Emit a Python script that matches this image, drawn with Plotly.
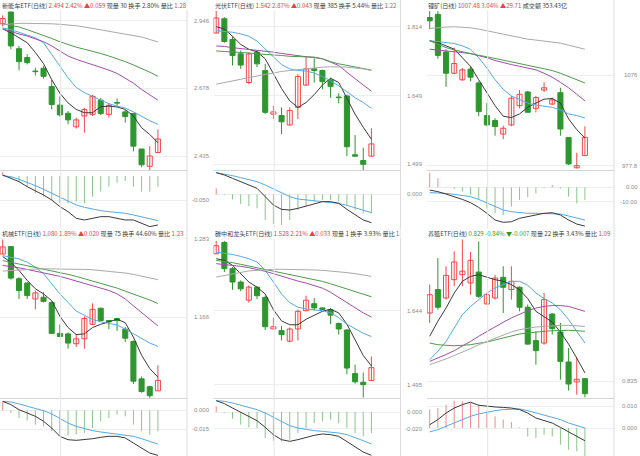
import math
import plotly.graph_objects as go

idx = list(range(20))

# ---------------- Panel 1: 新能车ETF ----------------
p1_title = ["新能车ETF(日线)", "2.494 2.42% ▲0.059", "现量 30 换手 2.80% 量比", "1.28"]
p1_price_ticks = [2.946, 2.678, 2.435]
p1_price_labels = ["2.946", "2.678", "2.435"]
p1_macd_ticks = [-0.05]
p1_macd_labels = ["-0.050"]
p1_open = [2.933, 2.982, 2.832, 2.797, 2.743, 2.755, 2.685, 2.616, 2.586, 2.537, 2.576, 2.582, 2.634, 2.582, 2.624, 2.591, 2.585, 2.459, 2.400, 2.447]
p1_high = [2.968, 2.984, 2.843, 2.810, 2.757, 2.764, 2.711, 2.648, 2.594, 2.570, 2.606, 2.654, 2.642, 2.624, 2.640, 2.598, 2.588, 2.459, 2.469, 2.528]
p1_low = [2.922, 2.830, 2.747, 2.770, 2.727, 2.715, 2.600, 2.574, 2.546, 2.531, 2.516, 2.576, 2.579, 2.570, 2.610, 2.552, 2.451, 2.397, 2.387, 2.445]
p1_close = [2.955, 2.843, 2.781, 2.777, 2.742, 2.724, 2.618, 2.580, 2.562, 2.562, 2.600, 2.648, 2.585, 2.615, 2.623, 2.574, 2.469, 2.405, 2.435, 2.494]
p1_ma5 = [2.912, 2.896, 2.876, 2.856, 2.817, 2.773, 2.711, 2.660, 2.624, 2.600, 2.588, 2.588, 2.610, 2.612, 2.609, 2.600, 2.576, 2.534, 2.510, 2.481]
p1_ma10 = [2.916, 2.909, 2.898, 2.888, 2.876, 2.856, 2.810, 2.764, 2.718, 2.682, 2.662, 2.648, 2.634, 2.621, 2.612, 2.605, 2.591, 2.574, 2.559, 2.546]
p1_ma20 = [2.912, 2.900, 2.891, 2.883, 2.873, 2.860, 2.843, 2.823, 2.803, 2.790, 2.780, 2.770, 2.760, 2.748, 2.735, 2.718, 2.698, 2.674, 2.654, 2.634]
p1_ma30 = [2.933, 2.927, 2.920, 2.909, 2.898, 2.887, 2.873, 2.860, 2.848, 2.838, 2.830, 2.822, 2.813, 2.803, 2.793, 2.781, 2.768, 2.755, 2.740, 2.724]
p1_ma60 = [2.929, 2.933, 2.935, 2.935, 2.935, 2.934, 2.933, 2.931, 2.929, 2.925, 2.920, 2.914, 2.909, 2.904, 2.898, 2.893, 2.887, 2.879, 2.869, 2.859]
p1_hist = [0.009, -0.0035, -0.0118, -0.0222, -0.0361, -0.043, -0.05, -0.0569, -0.0569, -0.0534, -0.0569, -0.043, -0.0326, -0.0222, -0.0139, -0.0104, -0.0222, -0.0326, -0.0326, -0.0222]
p1_dif = [0.0021, -0.0049, -0.0118, -0.0222, -0.0305, -0.0396, -0.05, -0.0638, -0.0743, -0.0881, -0.0916, -0.0881, -0.0847, -0.0847, -0.0881, -0.0916, -0.0916, -0.0985, -0.1055, -0.102]
p1_dea = [0.0007, -0.0014, -0.0069, -0.0132, -0.0201, -0.0278, -0.0361, -0.0444, -0.0534, -0.0604, -0.0652, -0.0694, -0.0722, -0.0743, -0.0756, -0.0777, -0.0812, -0.0847, -0.0895, -0.093]

# ---------------- Panel 2: 光伏ETF ----------------
p2_title = ["光伏ETF(日线)", "1.542 2.87% ▲0.043", "现量 385 换手 5.44% 量比", "1.22"]
p2_price_ticks = [1.814, 1.649, 1.499]
p2_price_labels = ["1.814", "1.649", "1.499"]
p2_macd_ticks = [0.0]
p2_macd_labels = ["0.000"]
p2_ref_level = 1.725
p2_open = [1.798, 1.834, 1.782, 1.747, 1.679, 1.751, 1.707, 1.607, 1.604, 1.583, 1.622, 1.673, 1.711, 1.707, 1.685, 1.645, 1.648, 1.519, 1.507, 1.516]
p2_high = [1.854, 1.838, 1.790, 1.755, 1.751, 1.755, 1.723, 1.626, 1.622, 1.622, 1.699, 1.741, 1.736, 1.709, 1.689, 1.654, 1.651, 1.561, 1.534, 1.576]
p2_low = [1.798, 1.774, 1.719, 1.711, 1.675, 1.715, 1.607, 1.596, 1.563, 1.582, 1.596, 1.671, 1.679, 1.663, 1.644, 1.631, 1.516, 1.516, 1.487, 1.516]
p2_close = [1.836, 1.777, 1.743, 1.720, 1.747, 1.723, 1.611, 1.612, 1.590, 1.615, 1.693, 1.711, 1.707, 1.681, 1.670, 1.644, 1.536, 1.516, 1.499, 1.542]
p2_ma5 = [1.814, 1.808, 1.790, 1.770, 1.758, 1.752, 1.735, 1.699, 1.665, 1.637, 1.622, 1.633, 1.651, 1.673, 1.689, 1.679, 1.644, 1.607, 1.578, 1.552]
p2_ma10 = [1.804, 1.802, 1.800, 1.796, 1.790, 1.778, 1.758, 1.739, 1.721, 1.711, 1.707, 1.706, 1.701, 1.693, 1.683, 1.671, 1.657, 1.644, 1.633, 1.620]
p2_ma20 = [1.766, 1.765, 1.762, 1.760, 1.758, 1.756, 1.753, 1.751, 1.748, 1.745, 1.743, 1.740, 1.738, 1.735, 1.727, 1.719, 1.703, 1.687, 1.673, 1.659]
p2_ma30 = [1.754, 1.753, 1.752, 1.751, 1.749, 1.747, 1.746, 1.744, 1.743, 1.741, 1.740, 1.739, 1.739, 1.735, 1.728, 1.723, 1.719, 1.715, 1.711, 1.708]
p2_ma60 = [1.675, 1.679, 1.683, 1.687, 1.691, 1.695, 1.698, 1.701, 1.705, 1.707, 1.709, 1.712, 1.713, 1.715, 1.716, 1.716, 1.715, 1.713, 1.711, 1.707]
p2_hist = [0.009, -0.001, -0.0075, -0.0145, -0.0175, -0.021, -0.0385, -0.0445, -0.046, -0.0385, -0.0235, -0.0175, -0.011, -0.0085, -0.0085, -0.011, -0.016, -0.0235, -0.0285, -0.0285]
p2_dif = [0.0325, 0.029, 0.024, 0.019, 0.015, 0.009, -0.0035, -0.016, -0.0225, -0.0235, -0.021, -0.0175, -0.0135, -0.011, -0.011, -0.0135, -0.0225, -0.031, -0.0385, -0.0425]
p2_dea = [0.0325, 0.0305, 0.028, 0.025, 0.0225, 0.019, 0.014, 0.0085, 0.0025, -0.0035, -0.007, -0.0085, -0.01, -0.011, -0.012, -0.0135, -0.0165, -0.0205, -0.024, -0.0275]

# ---------------- Panel 3: 锂矿 ----------------
p3_title = ["锂矿(日线)", "1007.48 3.04% ▲29.71", "成交额 353.43亿", ""]
p3_price_ticks = [1076.0, 977.8]
p3_price_labels = ["1076", "977.8"]
p3_macd_ticks = [0.0, -10.0]
p3_macd_labels = ["0.00", "-10.00"]
p3_open = [1143.3, 1147.2, 1102.5, 1078.0, 1070.6, 1082.7, 1067.0, 1030.9, 1025.5, 1011.0, 1020.8, 1041.7, 1056.9, 1038.8, 1059.0, 1043.5, 1056.1, 1007.4, 975.6, 988.3]
p3_high = [1151.2, 1151.2, 1105.7, 1107.6, 1083.9, 1085.9, 1068.8, 1044.6, 1028.0, 1020.0, 1052.5, 1059.0, 1058.0, 1052.5, 1067.7, 1050.7, 1061.6, 1007.4, 991.2, 1019.3]
p3_low = [1129.4, 1094.6, 1062.6, 1077.2, 1069.5, 1068.8, 1030.2, 1019.3, 1009.2, 1005.6, 1019.3, 1038.8, 1034.5, 1034.5, 1056.9, 1042.4, 1009.2, 978.5, 974.9, 988.3]
p3_close = [1139.3, 1098.5, 1078.0, 1089.1, 1081.9, 1073.5, 1035.2, 1020.8, 1019.0, 1017.2, 1050.0, 1054.3, 1034.5, 1050.7, 1061.6, 1048.2, 1016.4, 979.6, 977.8, 1007.5]
p3_ma5 = [1115.6, 1113.6, 1109.6, 1105.7, 1095.8, 1085.9, 1070.6, 1056.1, 1041.7, 1030.2, 1028.7, 1032.7, 1039.9, 1044.6, 1048.9, 1049.6, 1044.6, 1027.3, 1015.7, 1006.7]
p3_ma10 = [1115.6, 1114.4, 1113.6, 1112.4, 1109.6, 1105.7, 1095.8, 1083.9, 1070.6, 1059.8, 1052.5, 1048.2, 1044.6, 1042.4, 1041.0, 1039.9, 1037.0, 1032.7, 1030.9, 1028.3]
p3_ma20 = [1105.7, 1104.9, 1103.7, 1102.5, 1101.7, 1100.5, 1098.5, 1095.8, 1092.6, 1089.8, 1087.9, 1085.9, 1083.9, 1081.9, 1078.0, 1073.5, 1067.7, 1061.6, 1054.3, 1047.1]
p3_ma30 = [1115.6, 1111.6, 1107.6, 1104.9, 1102.5, 1100.5, 1098.5, 1097.0, 1095.0, 1093.0, 1091.0, 1089.1, 1087.1, 1085.9, 1083.9, 1081.1, 1078.0, 1074.2, 1070.6, 1067.0]
p3_ma60 = [1130.2, 1131.4, 1131.8, 1132.2, 1131.8, 1131.0, 1129.4, 1127.4, 1125.5, 1123.5, 1121.5, 1119.5, 1117.5, 1116.4, 1115.2, 1114.4, 1112.8, 1110.4, 1107.6, 1105.7]
p3_hist = [10.2, 6.3, 0.3, -1.2, -3.0, -5.3, -8.4, -14.7, -18.1, -19.3, -13.5, -8.8, -7.0, -4.2, -0.7, 1.6, -0.9, -6.5, -11.2, -8.8]
p3_dif = [-1.9, -3.0, -4.7, -6.5, -8.4, -10.7, -14.0, -18.1, -22.8, -24.4, -24.0, -21.6, -20.5, -19.3, -18.1, -17.7, -19.3, -22.8, -25.6, -27.0]
p3_dea = [-3.7, -3.7, -4.2, -4.9, -5.6, -6.5, -8.4, -10.7, -13.5, -15.8, -17.0, -17.7, -18.1, -18.1, -18.1, -18.1, -18.6, -20.0, -21.6, -22.8]

# ---------------- Panel 4: 机械ETF ----------------
p4_title = ["机械ETF(日线)", "1.080 1.89% ▲0.020", "现量 75 换手 44.60% 量比", "1.23"]
p4_price_ticks = [1.283, 1.166]
p4_price_labels = ["1.283", "1.166"]
p4_macd_ticks = [0.0, -0.015]
p4_macd_labels = ["0.000", "-0.015"]
p4_open = [1.2592, 1.2707, 1.2220, 1.2156, 1.1923, 1.1948, 1.1873, 1.1435, 1.1427, 1.1292, 1.1359, 1.1561, 1.1789, 1.1615, 1.1642, 1.1494, 1.1323, 1.0820, 1.0717, 1.0663]
p4_high = [1.2816, 1.2716, 1.2245, 1.2171, 1.2047, 1.2022, 1.1888, 1.1561, 1.1449, 1.1427, 1.1675, 1.1858, 1.1799, 1.1615, 1.1651, 1.1525, 1.1337, 1.0852, 1.0730, 1.1000]
p4_low = [1.2592, 1.2206, 1.1923, 1.1923, 1.1774, 1.1873, 1.1427, 1.1391, 1.1224, 1.1247, 1.1224, 1.1552, 1.1606, 1.1494, 1.1471, 1.1314, 1.0753, 1.0640, 1.0573, 1.0663]
p4_close = [1.2702, 1.2230, 1.2047, 1.1972, 1.2012, 1.1888, 1.1435, 1.1391, 1.1301, 1.1359, 1.1642, 1.1774, 1.1615, 1.1597, 1.1615, 1.1368, 1.0789, 1.0654, 1.0600, 1.0800]
p4_ma5 = [1.2553, 1.2468, 1.2344, 1.2196, 1.2072, 1.1997, 1.1898, 1.1675, 1.1516, 1.1418, 1.1427, 1.1516, 1.1561, 1.1597, 1.1633, 1.1584, 1.1382, 1.1135, 1.0955, 1.0843]
p4_ma10 = [1.2568, 1.2543, 1.2518, 1.2468, 1.2394, 1.2295, 1.2146, 1.1997, 1.1873, 1.1749, 1.1690, 1.1629, 1.1597, 1.1570, 1.1552, 1.1494, 1.1427, 1.1359, 1.1301, 1.1256]
p4_ma20 = [1.2419, 1.2404, 1.2384, 1.2359, 1.2335, 1.2310, 1.2285, 1.2255, 1.2221, 1.2186, 1.2156, 1.2121, 1.2087, 1.2047, 1.1997, 1.1923, 1.1824, 1.1724, 1.1629, 1.1539]
p4_ma30 = [1.2493, 1.2468, 1.2444, 1.2419, 1.2394, 1.2369, 1.2344, 1.2320, 1.2285, 1.2255, 1.2221, 1.2186, 1.2156, 1.2121, 1.2082, 1.2037, 1.1997, 1.1958, 1.1908, 1.1858]
p4_ma60 = [1.2335, 1.2344, 1.2354, 1.2359, 1.2364, 1.2369, 1.2369, 1.2369, 1.2369, 1.2364, 1.2359, 1.2354, 1.2344, 1.2335, 1.2320, 1.2305, 1.2285, 1.2260, 1.2235, 1.2206]
p4_hist = [0.0072, -0.0021, -0.0062, -0.0083, -0.0115, -0.0129, -0.0169, -0.0196, -0.0201, -0.0190, -0.0182, -0.0142, -0.0088, -0.0062, -0.0035, -0.0048, -0.0115, -0.0169, -0.0196, -0.0169]
p4_dif = [0.0072, 0.0046, 0.0005, -0.0021, -0.0048, -0.0088, -0.0142, -0.0209, -0.0236, -0.0241, -0.0236, -0.0228, -0.0217, -0.0209, -0.0209, -0.0222, -0.0263, -0.0303, -0.0343, -0.0362]
p4_dea = [0.0072, 0.0067, 0.0051, 0.0032, 0.0019, -0.0003, -0.0029, -0.0067, -0.0102, -0.0129, -0.0147, -0.0163, -0.0174, -0.0182, -0.0190, -0.0196, -0.0209, -0.0228, -0.0249, -0.0271]

# ---------------- Panel 5: 碳中和龙头ETF ----------------
p5_title = ["碳中和龙头ETF(日线)", "1.528 2.21% ▲0.033", "现量 1 换手 3.93% 量比", "1"]
p5_price_ticks = [1.644, 1.495]
p5_price_labels = ["1.644", "1.495"]
p5_macd_ticks = [0.0, -0.02]
p5_macd_labels = ["0.000", "-0.020"]
p5_open = [1.7685, 1.7944, 1.7351, 1.7055, 1.6662, 1.6944, 1.6722, 1.6058, 1.6024, 1.5809, 1.6058, 1.6440, 1.6588, 1.6499, 1.6462, 1.6172, 1.6037, 1.5165, 1.4997, 1.5031]
p5_high = [1.7981, 1.7981, 1.7388, 1.7092, 1.6981, 1.6959, 1.6759, 1.6292, 1.6125, 1.6091, 1.6462, 1.6759, 1.6707, 1.6514, 1.6499, 1.6192, 1.6058, 1.5340, 1.5185, 1.5501]
p5_low = [1.7685, 1.7277, 1.6885, 1.6855, 1.6610, 1.6685, 1.6037, 1.6058, 1.5823, 1.5789, 1.5823, 1.6427, 1.6440, 1.6462, 1.6158, 1.5943, 1.5151, 1.4970, 1.4705, 1.5031]
p5_close = [1.7870, 1.7351, 1.7055, 1.6907, 1.6944, 1.6759, 1.6105, 1.6105, 1.5943, 1.6058, 1.6427, 1.6662, 1.6499, 1.6462, 1.6346, 1.6058, 1.5272, 1.5004, 1.4950, 1.5280]
p5_ma5 = [1.7574, 1.7537, 1.7426, 1.7240, 1.7055, 1.6944, 1.6796, 1.6462, 1.6225, 1.6145, 1.6145, 1.6259, 1.6346, 1.6427, 1.6470, 1.6393, 1.6158, 1.5823, 1.5521, 1.5313]
p5_ma10 = [1.7722, 1.7700, 1.7670, 1.7626, 1.7574, 1.7500, 1.7314, 1.7055, 1.6796, 1.6610, 1.6514, 1.6477, 1.6462, 1.6440, 1.6393, 1.6292, 1.6158, 1.6058, 1.5970, 1.5903]
p5_ma20 = [1.7463, 1.7448, 1.7426, 1.7403, 1.7374, 1.7337, 1.7292, 1.7240, 1.7181, 1.7129, 1.7077, 1.7033, 1.6981, 1.6922, 1.6833, 1.6722, 1.6610, 1.6499, 1.6393, 1.6306]
p5_ma30 = [1.7537, 1.7514, 1.7485, 1.7448, 1.7411, 1.7374, 1.7337, 1.7292, 1.7255, 1.7218, 1.7181, 1.7144, 1.7107, 1.7070, 1.7018, 1.6959, 1.6900, 1.6840, 1.6781, 1.6736]
p5_ma60 = [1.7166, 1.7203, 1.7240, 1.7277, 1.7300, 1.7314, 1.7329, 1.7337, 1.7337, 1.7337, 1.7329, 1.7329, 1.7322, 1.7314, 1.7300, 1.7285, 1.7263, 1.7240, 1.7211, 1.7181]
p5_hist = [0.0068, -0.0008, -0.008, -0.0152, -0.0184, -0.0192, -0.0312, -0.0344, -0.0352, -0.0332, -0.0252, -0.0192, -0.0132, -0.0112, -0.0092, -0.0132, -0.0192, -0.0252, -0.0292, -0.0252]
p5_dif = [0.0136, 0.010, 0.0048, 0.0, -0.0052, -0.0104, -0.0184, -0.0272, -0.0332, -0.0352, -0.0332, -0.0304, -0.028, -0.0264, -0.0272, -0.0292, -0.0352, -0.0412, -0.048, -0.052]
p5_dea = [0.0136, 0.0128, 0.0108, 0.008, 0.0056, 0.0028, -0.0012, -0.0064, -0.012, -0.0164, -0.0192, -0.0212, -0.0224, -0.0232, -0.024, -0.0252, -0.0272, -0.0304, -0.0344, -0.0384]

# ---------------- Panel 6: 养殖ETF ----------------
p6_title = ["养殖ETF(日线)", "0.829 -0.84% ▼-0.007", "现量 22 换手 3.43% 量比", "1.09"]
p6_price_ticks = [0.835]
p6_price_labels = ["0.835"]
p6_macd_ticks = [0.01, 0.0]
p6_macd_labels = ["0.010", "0.000"]
p6_open = [0.8682, 0.8796, 0.8755, 0.8844, 0.8868, 0.8828, 0.8881, 0.8726, 0.8755, 0.8855, 0.8796, 0.8807, 0.8710, 0.8548, 0.8536, 0.8677, 0.8590, 0.8444, 0.8347, 0.8363]
p6_high = [0.8820, 0.8949, 0.8909, 0.8982, 0.9039, 0.8979, 0.9030, 0.8779, 0.8868, 0.8909, 0.8909, 0.8812, 0.8723, 0.8593, 0.8779, 0.8682, 0.8634, 0.8512, 0.8463, 0.8366]
p6_low = [0.8634, 0.8698, 0.8747, 0.8812, 0.8812, 0.8771, 0.8755, 0.8723, 0.8747, 0.8682, 0.8747, 0.8690, 0.8528, 0.8431, 0.8528, 0.8577, 0.8358, 0.8305, 0.8285, 0.8272]
p6_close = [0.8771, 0.8710, 0.8865, 0.8930, 0.8885, 0.8938, 0.8763, 0.8771, 0.8852, 0.8807, 0.8836, 0.8710, 0.8531, 0.8499, 0.8747, 0.8606, 0.8447, 0.8337, 0.8360, 0.8290]
p6_ma5 = [0.8569, 0.8642, 0.8706, 0.8779, 0.8836, 0.8860, 0.8868, 0.8855, 0.8844, 0.8836, 0.8820, 0.8795, 0.8752, 0.8690, 0.8666, 0.8638, 0.8590, 0.8531, 0.8463, 0.8391]
p6_ma10 = [0.8455, 0.8496, 0.8544, 0.8609, 0.8674, 0.8714, 0.8747, 0.8779, 0.8804, 0.8820, 0.8836, 0.8836, 0.8817, 0.8779, 0.8752, 0.8731, 0.8698, 0.8650, 0.8593, 0.8536]
p6_ma20 = [0.8447, 0.8463, 0.8480, 0.8499, 0.8520, 0.8544, 0.8569, 0.8593, 0.8617, 0.8637, 0.8658, 0.8677, 0.8693, 0.8706, 0.8714, 0.8718, 0.8718, 0.8714, 0.8703, 0.8690]
p6_ma30 = [0.8536, 0.8528, 0.8525, 0.8523, 0.8525, 0.8528, 0.8535, 0.8541, 0.8551, 0.8561, 0.8572, 0.8580, 0.8585, 0.8590, 0.8593, 0.8596, 0.8598, 0.8598, 0.8596, 0.8593]
p6_ma60 = [0.8431, 0.8444, 0.8459, 0.8475, 0.8491, 0.8509, 0.8528, 0.8544, 0.8561, 0.8577, 0.8590, 0.8601, 0.8609, 0.8614, 0.8617, 0.8621, 0.8622, 0.8622, 0.8621, 0.8617]
p6_hist = [0.0085, 0.0092, 0.0108, 0.0126, 0.0123, 0.0116, 0.0108, 0.0077, 0.0054, 0.0039, 0.0028, 0.0003, -0.0039, -0.0046, -0.0031, -0.0039, -0.0077, -0.0100, -0.0108, -0.0131]
p6_dif = [0.0015, 0.0039, 0.0069, 0.0092, 0.0108, 0.0119, 0.0105, 0.0100, 0.0097, 0.0095, 0.0092, 0.0085, 0.0069, 0.0046, 0.0034, 0.0023, 0.0003, -0.0018, -0.0039, -0.0059]
p6_dea = [-0.0018, -0.0008, 0.0008, 0.0023, 0.0039, 0.0054, 0.0065, 0.0074, 0.0080, 0.0085, 0.0088, 0.0088, 0.0080, 0.0069, 0.0059, 0.0049, 0.0039, 0.0023, 0.0012, 0.0000]

# ---------------- styling / geometry ----------------
W, H = 640, 456
UP = "#ec4a4a"
DOWN = "#2f962f"
HIST_UP = "#f28b8b"
HIST_DN = "#8cc48c"
NAME_C = "#34465a"
TXT_C = "#3c3c3c"
RED_T = "#e8413f"
GRN_T = "#2a9a2a"
LABEL_C = "#8c8c8c"
MA_COLORS = ["#3a3a3a", "#58a9e0", "#a04fa6", "#4f9a4f", "#a9a9a9"]
DIF_C = "#3a3a3a"
DEA_C = "#58a9e0"

COLS = [(0.0, 187.0), (213.5, 400.5), (427.0, 614.0)]
TITLE_X = [0.5, 213.5, 427.0]
LABEL_RIGHT = [212.0, 425.0, 639.5]
ROWS = [0.0, 228.0]
PRICE_H = 170.0
MACD_T, MACD_B = 172.0, 228.0
XR = [-0.33, 22.56]
VLINE_X = 7.1

panels = [
    dict(title=p1_title, qc=RED_T, o=p1_open, h=p1_high, l=p1_low, c=p1_close,
         ma=[p1_ma5, p1_ma10, p1_ma20, p1_ma30, p1_ma60], hist=p1_hist, dif=p1_dif, dea=p1_dea,
         pt=p1_price_ticks, pl=p1_price_labels, mt=p1_macd_ticks, ml=p1_macd_labels,
         col=0, row=0, log=True, pa=((2.946, 20.67), (2.435, 156.0)), ma_=((0.0, 176.0), (-0.05, 200.0))),
    dict(title=p2_title, qc=RED_T, o=p2_open, h=p2_high, l=p2_low, c=p2_close,
         ma=[p2_ma5, p2_ma10, p2_ma20, p2_ma30, p2_ma60], hist=p2_hist, dif=p2_dif, dea=p2_dea,
         pt=p2_price_ticks, pl=p2_price_labels, mt=p2_macd_ticks, ml=p2_macd_labels,
         col=1, row=0, log=True, pa=((1.814, 26.67), (1.499, 164.33)), ma_=((0.0, 194.33), (-0.03, 214.33)),
         ref=p2_ref_level),
    dict(title=p3_title, qc=RED_T, o=p3_open, h=p3_high, l=p3_low, c=p3_close,
         ma=[p3_ma5, p3_ma10, p3_ma20, p3_ma30, p3_ma60], hist=p3_hist, dif=p3_dif, dea=p3_dea,
         pt=p3_price_ticks, pl=p3_price_labels, mt=p3_macd_ticks, ml=p3_macd_labels,
         col=2, row=0, log=True, pa=((1076.0, 75.0), (977.8, 165.67)), ma_=((0.0, 187.33), (-10.0, 201.67))),
    dict(title=p4_title, qc=RED_T, o=p4_open, h=p4_high, l=p4_low, c=p4_close,
         ma=[p4_ma5, p4_ma10, p4_ma20, p4_ma30, p4_ma60], hist=p4_hist, dif=p4_dif, dea=p4_dea,
         pt=p4_price_ticks, pl=p4_price_labels, mt=p4_macd_ticks, ml=p4_macd_labels,
         col=0, row=1, log=True, pa=((1.283, 10.67), (1.166, 89.33)), ma_=((0.0, 182.33), (-0.015, 201.0))),
    dict(title=p5_title, qc=RED_T, o=p5_open, h=p5_high, l=p5_low, c=p5_close,
         ma=[p5_ma5, p5_ma10, p5_ma20, p5_ma30, p5_ma60], hist=p5_hist, dif=p5_dif, dea=p5_dea,
         pt=p5_price_ticks, pl=p5_price_labels, mt=p5_macd_ticks, ml=p5_macd_labels,
         col=1, row=1, log=True, pa=((1.644, 82.67), (1.495, 156.67)), ma_=((0.0, 184.0), (-0.02, 200.67))),
    dict(title=p6_title, qc=GRN_T, o=p6_open, h=p6_high, l=p6_low, c=p6_close,
         ma=[p6_ma5, p6_ma10, p6_ma20, p6_ma30, p6_ma60], hist=p6_hist, dif=p6_dif, dea=p6_dea,
         pt=p6_price_ticks, pl=p6_price_labels, mt=p6_macd_ticks, ml=p6_macd_labels,
         col=2, row=1, log=False, pa=((0.9095, 0.0), (0.835, 153.33)), ma_=((0.01, 178.33), (0.0, 200.0))),
]


def py(px):
    return 1.0 - px / H


def segs(xs, a, b):
    X, Y = [], []
    for x, u, v in zip(xs, a, b):
        X += [x, x, None]
        Y += [u, v, None]
    return X, Y


fig = go.Figure()
layout = {}
shapes = []
annotations = []
base_font = "Liberation Sans, Arial, Noto Sans CJK SC"

for k, p in enumerate(panels):
    n1, n2 = k + 1, k + 7
    xa1 = "x" if n1 == 1 else f"x{n1}"
    ya1 = "y" if n1 == 1 else f"y{n1}"
    xa2, ya2 = f"x{n2}", f"y{n2}"
    x0, x1 = COLS[p["col"]]
    top = ROWS[p["row"]]
    xd = [x0 / W, x1 / W]

    (v1, q1), (v2, q2) = p["pa"]
    if p["log"]:
        a = (math.log10(v1) - math.log10(v2)) / (q2 - q1)
        yr = [math.log10(v1) - a * (PRICE_H - q1), math.log10(v1) + a * q1]
    else:
        a = (v1 - v2) / (q2 - q1)
        yr = [v1 - a * (PRICE_H - q1), v1 + a * q1]
    (m1, r1), (m2, r2) = p["ma_"]
    s = (m1 - m2) / (r2 - r1)
    mr = [m1 - s * (MACD_B - r1), m1 + s * (r1 - MACD_T)]

    common_x = dict(range=XR, visible=False, fixedrange=True)
    layout["xaxis" if n1 == 1 else f"xaxis{n1}"] = dict(domain=xd, anchor=ya1, **common_x)
    layout[f"xaxis{n2}"] = dict(domain=xd, anchor=ya2, **common_x)
    common_y = dict(showticklabels=False, ticks="", showline=False, zeroline=False,
                    showgrid=True, gridcolor="#eeeeee", gridwidth=1, tickmode="array", fixedrange=True)
    layout["yaxis" if n1 == 1 else f"yaxis{n1}"] = dict(
        domain=[py(top + PRICE_H), py(top)], anchor=xa1, type="log" if p["log"] else "linear",
        range=yr, tickvals=p["pt"], **common_y)
    layout[f"yaxis{n2}"] = dict(
        domain=[py(top + MACD_B), py(top + MACD_T)], anchor=xa2, type="linear",
        range=mr, tickvals=p["mt"], **common_y)

    O, Hh, L, C = p["o"], p["h"], p["l"], p["c"]
    up = [c > o for o, c in zip(O, C)]
    for flag, col in ((True, UP), (False, DOWN)):
        xs = [i for i in idx if up[i] == flag]
        X, Y = segs(xs, [L[i] for i in xs], [Hh[i] for i in xs])
        fig.add_trace(go.Scatter(x=X, y=Y, mode="lines", line=dict(color=col, width=1),
                                 xaxis=xa1, yaxis=ya1, hoverinfo="skip", showlegend=False))
    base = [min(o, c) for o, c in zip(O, C)]
    size = [max(abs(c - o), 0.0009 * c) for o, c in zip(O, C)]
    fig.add_trace(go.Bar(x=idx, y=size, base=base, width=0.62,
                         marker=dict(color=["#ffffff" if u else DOWN for u in up],
                                     line=dict(color=[UP if u else DOWN for u in up], width=1)),
                         xaxis=xa1, yaxis=ya1, hoverinfo="skip", showlegend=False))
    for series, col in zip(p["ma"], MA_COLORS):
        fig.add_trace(go.Scatter(x=idx, y=series, mode="lines", line=dict(color=col, width=1),
                                 xaxis=xa1, yaxis=ya1, hoverinfo="skip", showlegend=False))
    for positive, col in ((True, HIST_UP), (False, HIST_DN)):
        xs = [i for i in idx if (p["hist"][i] > 0) == positive]
        X, Y = segs(xs, [0.0] * len(xs), [p["hist"][i] for i in xs])
        fig.add_trace(go.Scatter(x=X, y=Y, mode="lines", line=dict(color=col, width=1),
                                 xaxis=xa2, yaxis=ya2, hoverinfo="skip", showlegend=False))
    fig.add_trace(go.Scatter(x=idx, y=p["dea"], mode="lines", line=dict(color=DEA_C, width=1),
                             xaxis=xa2, yaxis=ya2, hoverinfo="skip", showlegend=False))
    fig.add_trace(go.Scatter(x=idx, y=p["dif"], mode="lines", line=dict(color=DIF_C, width=1),
                             xaxis=xa2, yaxis=ya2, hoverinfo="skip", showlegend=False))

    shapes.append(dict(type="line", xref="paper", yref="paper", x0=x1 / W, x1=x1 / W,
                       y0=py(top + 228), y1=py(top), line=dict(color="#dcdcdc", width=1)))
    shapes.append(dict(type="line", xref="paper", yref="paper", x0=x0 / W, x1=x1 / W,
                       y0=py(top + PRICE_H + 0.5), y1=py(top + PRICE_H + 0.5),
                       line=dict(color="#d4d4d4", width=1)))
    shapes.append(dict(type="line", xref=xa1, yref="paper", x0=VLINE_X, x1=VLINE_X,
                       y0=py(top + 228), y1=py(top), line=dict(color="#e6e6e6", width=1)))
    if "ref" in p:
        shapes.append(dict(type="line", xref=f"{xa1} domain", yref=ya1, x0=0, x1=1,
                           y0=math.log10(p["ref"]), y1=math.log10(p["ref"]),
                           line=dict(color="#4aa3a3", width=1)))

    for v, t in zip(p["pt"], p["pl"]):
        annotations.append(dict(x=LABEL_RIGHT[p["col"]] / W, xref="paper", xanchor="right",
                                y=math.log10(v) if p["log"] else v, yref=ya1, yanchor="middle",
                                text=t, showarrow=False, font=dict(size=6, color=LABEL_C, family=base_font)))
    for v, t in zip(p["mt"], p["ml"]):
        annotations.append(dict(x=LABEL_RIGHT[p["col"]] / W, xref="paper", xanchor="right",
                                y=v, yref=ya2, yanchor="middle",
                                text=t, showarrow=False, font=dict(size=6, color=LABEL_C, family=base_font)))

    t = p["title"]
    text = (f'<span style="color:{NAME_C}">{t[0]}</span> '
            f'<span style="color:{p["qc"]}">{t[1]}</span> '
            f'<span style="color:{TXT_C}">{t[2]}</span>')
    if t[3]:
        text += f' <span style="color:{RED_T}">{t[3]}</span>'
    annotations.append(dict(x=TITLE_X[p["col"]] / W, xref="paper", xanchor="left",
                            y=py(top), yref="paper", yanchor="top", text=text, showarrow=False,
                            bgcolor="#ffffff", borderpad=0,
                            font=dict(size=6.1, family="Noto Sans CJK SC", color=TXT_C)))

fig.update_layout(width=W, height=H, margin=dict(l=0, r=0, t=0, b=0),
                  paper_bgcolor="#ffffff", plot_bgcolor="#ffffff", showlegend=False,
                  barmode="overlay", shapes=shapes, annotations=annotations, **layout)
fig.write_html("out.html", config={"displayModeBar": False, "staticPlot": True},
               post_script="document.body.style.margin='0px';document.body.style.padding='0px';")
